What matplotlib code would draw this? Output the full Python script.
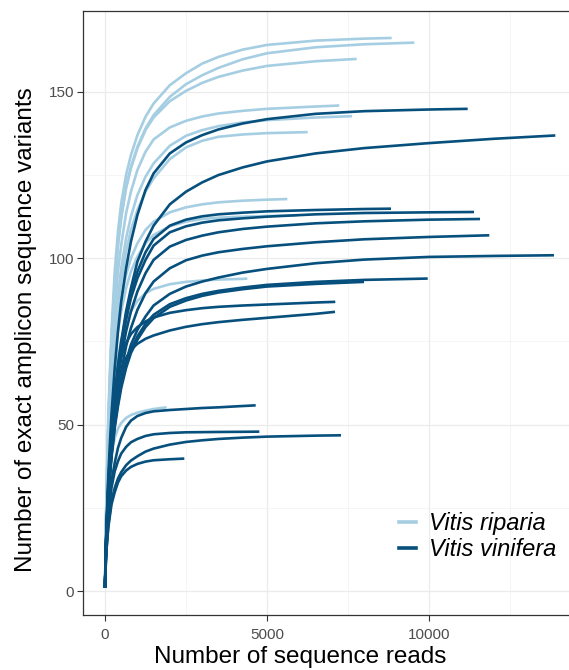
import matplotlib
matplotlib.use("Agg")
import matplotlib.pyplot as plt
from matplotlib.lines import Line2D
from matplotlib.ticker import MultipleLocator

plt.rcParams['font.family'] = ['Liberation Sans', 'DejaVu Sans']

# ---------------- data ----------------
# every curve uses the leading part of this list and then its own final depth.
GRID_READS = [1, 25, 50, 100, 150, 200, 300, 400, 500, 650, 800, 1000, 1250, 1500,
              2000, 2500, 3000, 3500, 4250, 5000, 6500, 8000, 10000, 12000]

# Vitis riparia: final depth and ASV counts
riparia_end_reads = [8849, 9547, 7768, 7232, 7623, 6256, 5627, 5916, 4393, 1900]
riparia_1 = [1, 18, 32, 52, 66, 78, 96, 108, 116.5, 125, 131, 137, 142.5, 146.5, 152, 155.6, 158.5, 160.5, 162.7, 164.1, 165.4, 166, 166.2]
riparia_2 = [1, 17, 30, 49, 63, 75, 92, 104, 112.5, 121.5, 127.5, 133.5, 139, 143, 148.5, 152.3, 155, 157.2, 159.8, 161.6, 163.4, 164.3, 164.8]
riparia_3 = [1, 17, 30, 49, 63, 75, 92, 104, 112, 121, 127, 133, 138.5, 142.3, 147.2, 150.3, 152.7, 154.5, 156.4, 157.8, 159.2, 159.9]
riparia_4 = [1, 16, 28, 45, 58, 68, 84, 96, 104, 113.5, 120, 126.5, 132, 135.7, 139.3, 141.3, 142.6, 143.5, 144.3, 144.9, 145.6, 145.9]
riparia_5 = [1, 15, 26, 42, 54, 63, 78, 89, 97, 106, 112.5, 119, 124.5, 128.5, 133.8, 136.8, 138.5, 139.7, 140.8, 141.5, 142.3, 142.7]
riparia_6 = [1, 15, 26, 41, 52, 61, 75, 86, 93, 102, 108.5, 114.5, 120, 124, 129.8, 133.3, 135.3, 136.5, 137.2, 137.6, 137.9]
riparia_7 = [1, 15, 26, 40, 51, 60, 72, 81, 88, 95, 100, 104.5, 108.5, 111, 113.8, 115.3, 116.2, 116.8, 117.3, 117.6, 117.8]
riparia_8 = [1, 15, 25, 38, 49, 57, 69, 78, 84, 91, 96, 100.5, 104.5, 107, 109.6, 111, 111.8, 112.2, 112.5, 112.7, 112.9]
riparia_9 = [1, 14, 24, 37, 46, 53, 63, 70, 75.5, 80.5, 84, 87.2, 89.5, 90.8, 92.2, 92.9, 93.3, 93.6, 93.8, 93.9]
riparia_10 = [1, 12, 20, 30, 36, 41, 46, 48.8, 50.5, 52, 52.9, 53.6, 54.2, 54.7, 55.2]

# Vitis vinifera: final depth and ASV counts
vinifera_end_reads = [11194, 13899, 8827, 11389, 11574, 11861, 13858, 9960, 7994, 7108,
                      7099, 4651, 4763, 7284, 2448]
vinifera_1 = [1, 12, 21, 34, 44, 53, 67, 78, 87, 97, 105, 113, 120.5, 125.5, 131.5, 134.8, 137, 138.7, 140.5, 141.8, 143.4, 144.2, 144.7, 144.9]
vinifera_2 = [1, 12, 20, 31, 40, 47, 59, 68, 75, 84, 91, 99, 105, 109.8, 116.2, 120, 122.8, 125, 127.3, 129.1, 131.5, 133.1, 134.6, 135.9, 136.9]
vinifera_3 = [1, 12, 19, 30, 39, 46, 58, 67, 74, 83, 89.5, 96, 101.8, 105.8, 109.8, 111.6, 112.6, 113.2, 113.7, 114.1, 114.5, 114.8, 114.9]
vinifera_4 = [1, 12, 19, 30, 39, 46, 57.5, 66, 73, 81.5, 88, 94, 99.5, 103.8, 107.8, 109.6, 110.7, 111.4, 112, 112.5, 113.2, 113.6, 113.8, 113.9]
vinifera_5 = [1, 12, 19, 29, 37, 44, 55, 63.5, 70, 78, 84, 90, 95.5, 99.5, 103.5, 105.5, 106.8, 107.8, 108.8, 109.5, 110.5, 111.1, 111.6, 111.8]
vinifera_6 = [1, 11, 18, 28, 35.5, 42, 52, 60, 66, 73.5, 79, 84.5, 89.5, 93, 97, 99.4, 100.8, 101.8, 102.8, 103.6, 104.8, 105.7, 106.4, 106.9]
vinifera_7 = [1, 11, 18, 28, 35, 41, 50, 57, 62.5, 69, 74, 78.5, 82.5, 85.8, 89.3, 91.5, 93, 94.2, 95.7, 96.8, 98.5, 99.6, 100.4, 100.7, 100.9]
vinifera_8 = [1, 11, 18, 28, 35, 41, 50, 56.5, 62, 68, 72.5, 76.5, 80.3, 83, 86.2, 88, 89.3, 90.2, 91.2, 92, 92.9, 93.5, 93.9]
vinifera_9 = [1, 11, 18, 27, 34, 40, 49, 55.5, 61, 67, 71.5, 75.5, 79.3, 82, 85.4, 87.3, 88.7, 89.7, 90.7, 91.5, 92.3, 92.9]
vinifera_10 = [1, 12, 20, 32, 41, 49, 59, 66, 70.5, 74.5, 77.2, 79.3, 81, 82.2, 83.6, 84.4, 85, 85.4, 85.8, 86.1, 86.7, 86.9]
vinifera_11 = [1, 12, 19, 30, 38, 45, 54.5, 61, 65.8, 70, 72.5, 74.3, 75.8, 76.8, 78.3, 79.4, 80.2, 80.8, 81.5, 82.1, 83.3, 83.9]
vinifera_12 = [1, 10, 16, 24, 29, 33, 38.5, 43, 46, 49.3, 51.2, 52.6, 53.5, 54, 54.4, 54.7, 55, 55.2, 55.6, 55.8]
vinifera_13 = [1, 9, 14, 21, 26.5, 31, 36, 39, 41.3, 43.3, 44.7, 45.7, 46.6, 47.1, 47.5, 47.7, 47.75, 47.8, 47.85, 47.9]
vinifera_14 = [1, 8.5, 13, 19.5, 23.5, 27, 31, 33.8, 35.7, 37.8, 39.2, 40.5, 41.9, 42.8, 44, 44.8, 45.3, 45.7, 46.1, 46.4, 46.7, 46.8]
vinifera_15 = [1, 8.5, 13, 19, 22.5, 26, 29.7, 32.6, 34.5, 36.2, 37.3, 38.2, 38.9, 39.3, 39.6, 39.8]

riparia_asvs = [riparia_1, riparia_2, riparia_3, riparia_4, riparia_5,
                riparia_6, riparia_7, riparia_8, riparia_9, riparia_10]
vinifera_asvs = [vinifera_1, vinifera_2, vinifera_3, vinifera_4, vinifera_5,
                 vinifera_6, vinifera_7, vinifera_8, vinifera_9, vinifera_10,
                 vinifera_11, vinifera_12, vinifera_13, vinifera_14, vinifera_15]

species_labels = ["Vitis riparia", "Vitis vinifera"]
x_ticks = [0, 5000, 10000]
y_ticks = [0, 50, 100, 150]


def curve_reads(end, asvs):
    n = len(asvs) - 1
    reads = GRID_READS[:n] + [end]
    assert all(r < end for r in GRID_READS[:n])
    return reads


# ---------------- styling ----------------
LIGHT = "#a6cee3"
DARK = "#07507d"
LW = 1.9

fig = plt.figure(figsize=(5.69, 6.70), dpi=100)
W, H = 569, 670
# panel extends slightly past the right edge of the image (cropped original)
ax = fig.add_axes([83 / W, 1 - 615 / H, (578 - 83) / W, (615 - 11) / H])

for end, asvs in zip(riparia_end_reads, riparia_asvs):
    ax.plot(curve_reads(end, asvs), asvs, color=LIGHT, lw=LW,
            solid_capstyle='butt', solid_joinstyle='round', zorder=2)
for end, asvs in zip(vinifera_end_reads, vinifera_asvs):
    ax.plot(curve_reads(end, asvs), asvs, color=DARK, lw=LW,
            solid_capstyle='butt', solid_joinstyle='round', zorder=3)

ax.set_xlim(-679, 14599)
ax.set_ylim(-7.2, 174.3)

ax.set_xticks(x_ticks)
ax.set_yticks(y_ticks)
ax.xaxis.set_minor_locator(MultipleLocator(2500))
ax.yaxis.set_minor_locator(MultipleLocator(25))
ax.grid(True, which='major', color='#ebebeb', lw=0.9, zorder=0)
ax.grid(True, which='minor', color='#f2f2f2', lw=0.5, zorder=0)
ax.set_axisbelow(True)
ax.tick_params(which='minor', length=0)
ax.tick_params(which='major', length=4.5, width=0.8, color='#333333',
               labelsize=11, labelcolor='#4d4d4d')
ax.tick_params(axis='x', pad=5)
ax.tick_params(axis='y', pad=2)
for s in ax.spines.values():
    s.set_color('#333333')
    s.set_linewidth(0.9)

fig.text(300 / W, 1 - 657 / H, "Number of sequence reads", ha='center', va='center',
         fontsize=17.5, color='black')
fig.text(26 / W, 1 - 330 / H, "Number of exact amplicon sequence variants", ha='center',
         va='center', rotation=90, fontsize=17.5, color='black')

handles = [Line2D([0], [0], color=LIGHT, lw=2.6),
           Line2D([0], [0], color=DARK, lw=2.6)]
leg = fig.legend(handles, species_labels, loc='center left',
                 bbox_to_anchor=(399 / W, 1 - 536.5 / H), frameon=False,
                 borderpad=0, borderaxespad=0, handlelength=0.72, handletextpad=0.55,
                 labelspacing=0.14, prop={'size': 17, 'style': 'italic'})

fig.savefig("out.png", dpi=100)
